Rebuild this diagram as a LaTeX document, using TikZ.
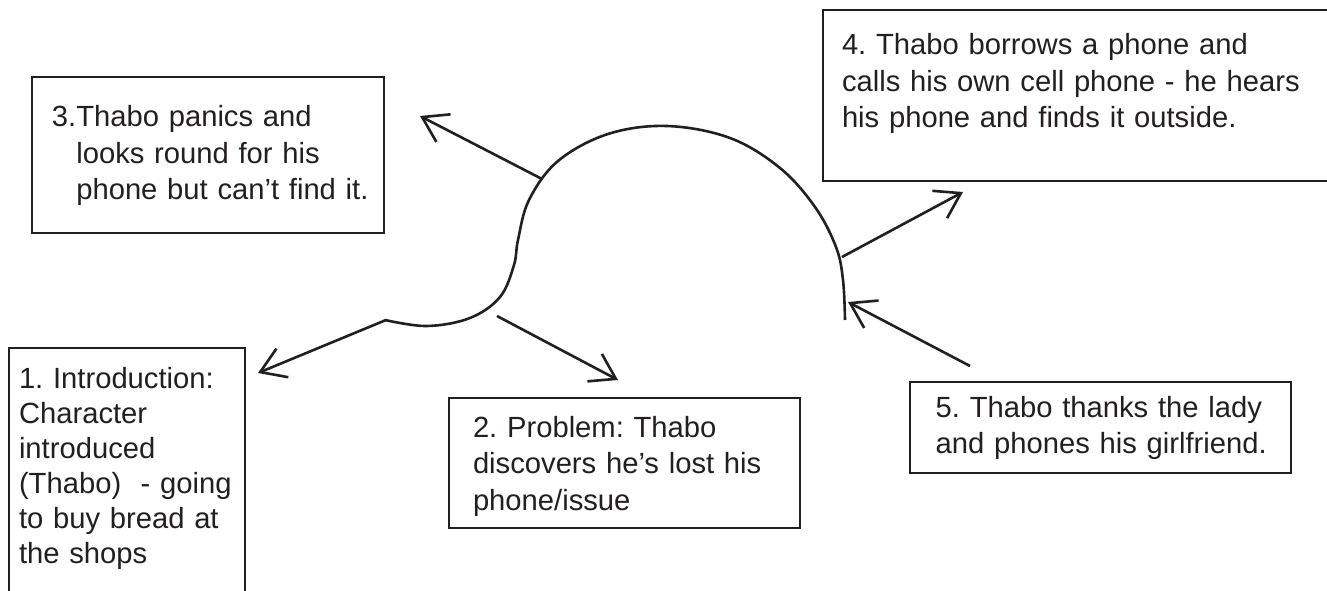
\documentclass[tikz,border=0pt]{standalone}
\usepackage{fontspec}
\setmainfont{Liberation Sans}
\usetikzlibrary{arrows.meta}
\definecolor{ink}{RGB}{35,31,32}
\newcommand\storyfont{\fontsize{29.2}{36.5}\selectfont\frenchspacing}

\begin{document}
\begin{tikzpicture}[x=1pt, y=-1pt,
  stroke/.style={line width=2.6pt, draw=ink},
  storybox/.style={draw=ink, line width=2.6pt, inner sep=0pt, outer sep=0pt,
    anchor=north west, align=left, font=\storyfont, text=ink},
  pointer/.style={stroke, -{Straight Barb[length=24pt, width=31pt, line width=2.6pt]}},
]
\useasboundingbox (0,0) rectangle (1327,591);
\clip (0,0) rectangle (1327,591);

% story boxes
\node[storybox, text width=236pt, text height=40pt, text depth=232pt] (intro) at (9,348)
  {\leftskip=10pt\baselineskip=35pt 1. Introduction:\\ Character\\ introduced\\ (Thabo)~~- going\\ to buy bread at\\ the shops\par};
\node[storybox, text width=351pt, text height=39pt, text depth=91pt] (problem) at (449,398)
  {\leftskip=24pt 2. Problem: Thabo\\ discovers he’s lost his\\ phone/issue\par};
\node[storybox, text width=352pt, text height=50pt, text depth=106pt] (panic) at (32,77)
  {\leftskip=44.3pt \llap{3.}Thabo panics and\\ looks round for his\\ phone but can’t find it.\par};
\node[storybox, text width=520pt, text height=45pt, text depth=126pt] (found) at (823,10)
  {\leftskip=19pt 4. Thabo borrows a phone and\\ calls his own cell phone - he hears\\ his phone and finds it outside.\par};
\node[storybox, text width=381pt, text height=35pt, text depth=56pt] (ending) at (910,382)
  {\leftskip=25.7pt 5. Thabo thanks the lady\\ and phones his girlfriend.\par};

% the story arc
\draw[stroke] plot[smooth, tension=0.6] coordinates {
  (385,320) (427,326) (470,318) (500,297) (514,265) (518,240)
  (529,200) (558,161) (608,134) (667,126) (730,138) (780,168)
  (815,207) (836,247) (843,280) (845,320)};

% points on and near the arc, and arrow ends
\coordinate (c1) at (386,320);
\coordinate (t1) at (258,373);
\coordinate (c2) at (497,316);
\coordinate (t2) at (618,380);
\coordinate (c3) at (542,179);
\coordinate (t3) at (420,116);
\coordinate (c4) at (842,257);
\coordinate (t4) at (963,192);
\coordinate (s5) at (970,366);
\coordinate (t5) at (848,302);

\draw[pointer] (c1) -- (t1);
\draw[pointer] (c2) -- (t2);
\draw[pointer] (c3) -- (t3);
\draw[pointer] (c4) -- (t4);
\draw[pointer] (s5) -- (t5);
\end{tikzpicture}
\end{document}
